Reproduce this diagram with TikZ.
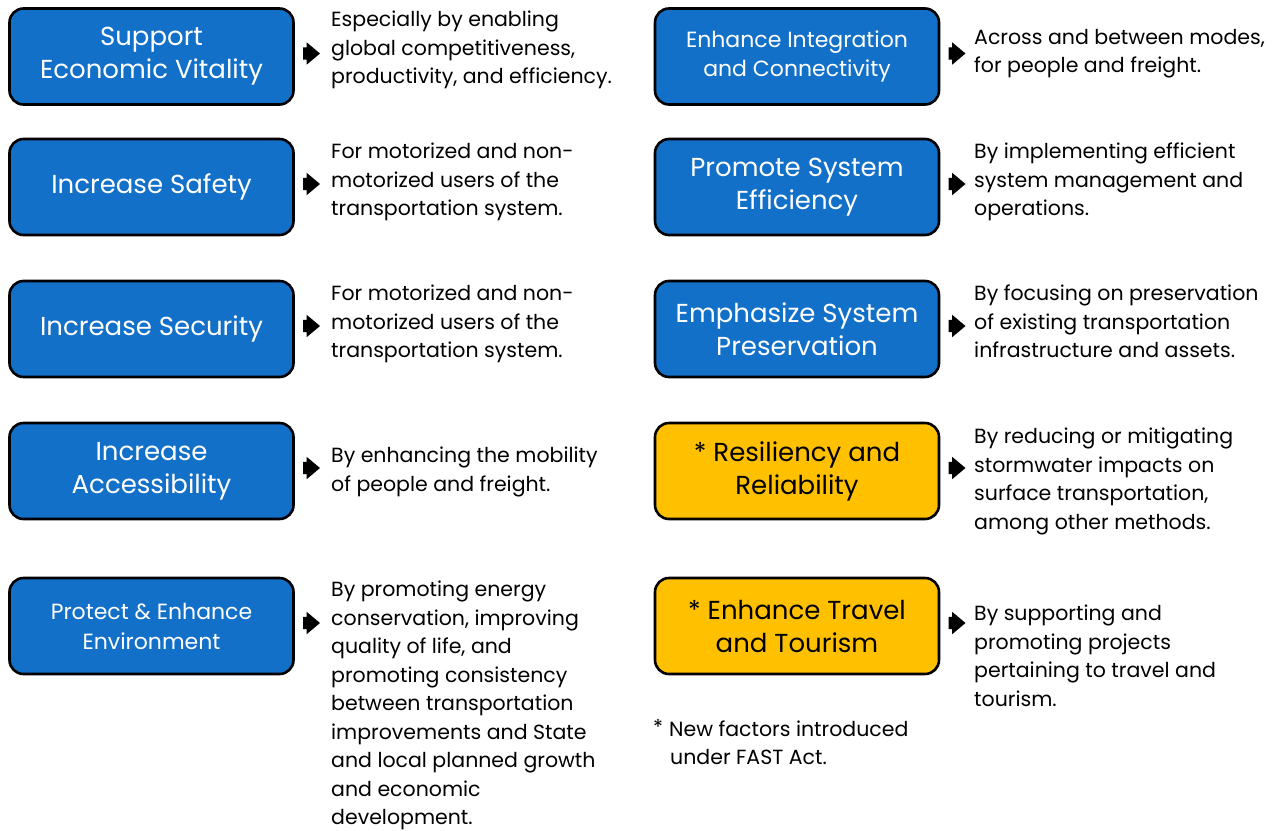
\documentclass[tikz,border=0pt]{standalone}
\usepackage{fontspec}
\setmainfont{Poppins}
\usetikzlibrary{shapes.arrows,positioning}
\definecolor{goalblue}{RGB}{18,112,200}
\definecolor{goalgold}{RGB}{255,192,0}

\begin{document}
\begin{tikzpicture}[x=1pt,y=-1pt,
	goal/.style={draw=black, line width=2.6pt, rounded corners=14pt, fill=goalblue, text=white,
		minimum width=284pt, minimum height=96pt, align=center, font=\fontsize{26}{33}\selectfont},
	newgoal/.style={goal, fill=goalgold, text=black},
	pointer/.style={single arrow, fill=black, inner xsep=0pt, inner ysep=6pt, minimum height=17pt,
		single arrow head extend=5pt, single arrow tip angle=80},
	desc/.style={anchor=north west, inner sep=0pt, align=left, font=\fontsize{20.5}{28.5}\selectfont}]
	\useasboundingbox (0,0) rectangle (1279,830);
	% left column
	\node [goal] (vital) at (151.5,56.5) {Support\\Economic Vitality};
	\node [goal] (safety) at (151.5,187) {Increase Safety};
	\node [goal] (secure) at (151.5,329) {Increase Security};
	\node [goal] (access) at (151.5,471) {Increase\\Accessibility};
	\node [goal, font=\fontsize{22}{30}\selectfont] (environ) at (151.5,626) {Protect \& Enhance\\Environment};
	% right column
	\node [goal, font=\fontsize{22}{29}\selectfont] (connect) at (797,56.5) {Enhance Integration\\and Connectivity};
	\node [goal] (effic) at (797,187) {Promote System\\Efficiency};
	\node [goal] (preserve) at (797,329) {Emphasize System\\Preservation};
	\node [newgoal] (resil) at (797,471) {* Resiliency and\\Reliability};
	\node [newgoal] (tourism) at (797,626) {* Enhance Travel\\and Tourism};
	% pointers
	\foreach \g in {vital,safety,secure,access,environ,connect,effic,preserve,resil,tourism}
		\node [pointer, right=8pt of \g.east, yshift=3pt] (p-\g) {};
	% descriptions
	\node [desc] (d-vital) at (331,11) {Especially by enabling\\global competitiveness,\\productivity, and efficiency.};
	\node [desc] (d-safety) at (331,143) {For motorized and non-\\motorized users of the\\transportation system.};
	\node [desc] (d-secure) at (331,285) {For motorized and non-\\motorized users of the\\transportation system.};
	\node [desc] (d-access) at (331,447) {By enhancing the mobility\\of people and freight.};
	\node [desc] (d-environ) at (331,581) {By promoting energy\\conservation, improving\\quality of life, and\\promoting consistency\\between transportation\\improvements and State\\and local planned growth\\and economic\\development.};
	\node [desc] (d-connect) at (974,29) {Across and between modes,\\for people and freight.};
	\node [desc] (d-effic) at (974,143) {By implementing efficient\\system management and\\operations.};
	\node [desc] (d-preserve) at (974,285) {By focusing on preservation\\of existing transportation\\infrastructure and assets.};
	\node [desc] (d-resil) at (974,428) {By reducing or mitigating\\stormwater impacts on\\surface transportation,\\among other methods.};
	\node [desc] (d-tourism) at (974,605) {By supporting and\\promoting projects\\pertaining to travel and\\tourism.};
	% footnote
	\node [desc] (note) at (653,719) {\raisebox{2pt}{*}\hspace{6pt}New factors introduced\\\hspace*{17pt}under FAST Act.};
\end{tikzpicture}
\end{document}
